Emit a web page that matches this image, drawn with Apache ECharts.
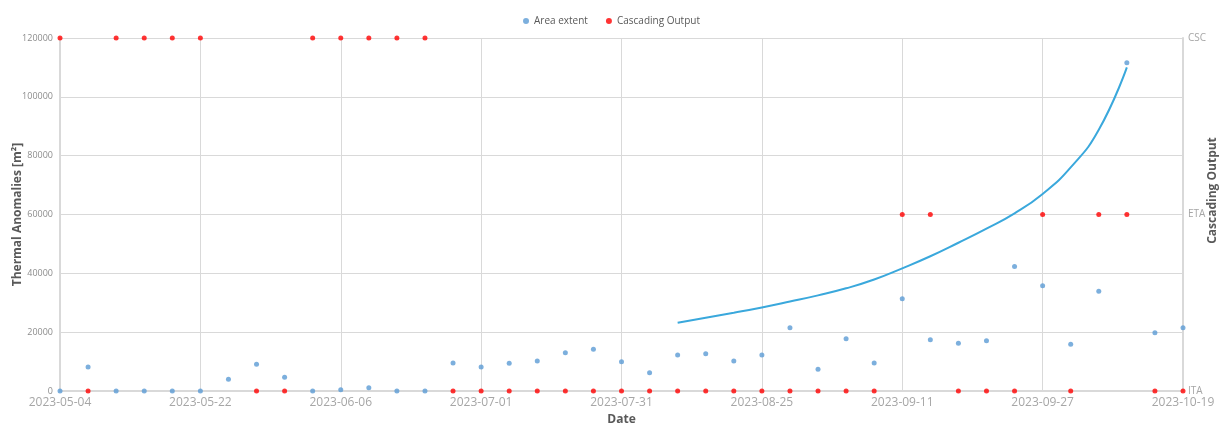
<!DOCTYPE html>
<html>
<head>
<meta charset="utf-8">
<script src="https://cdn.jsdelivr.net/npm/echarts@6/dist/echarts.min.js"></script>
<style>
  html, body { margin: 0; padding: 0; background: #fff; }
  #chart { width: 1223px; height: 424px; }
</style>
</head>
<body>
<div id="chart"></div>
<script>
// Date labels shown every fifth observation along the x axis
const dateLabels = ['2023-05-04', '2023-05-22', '2023-06-06', '2023-07-01', '2023-07-31',
                    '2023-08-25', '2023-09-11', '2023-09-27', '2023-10-19'];

// Thermal anomaly area extent per observation [m²]
const areaExtent = [0, 8200, 0, 0, 0, 0, 4000, 9100, 4700, 0,
                    400, 1100, 0, 0, 9500, 8200, 9400, 10200, 13000, 14200,
                    9950, 6200, 12250, 12700, 10200, 12250, 21500, 7400, 17800, 9500,
                    31400, 17450, 16200, 17100, 42300, 35800, 15900, 33900, 111600, 19800,
                    21500];

// Cascading output level per observation (0 = ITA, 1 = ETA, 2 = CSC); null = no output
const cascadingOutput = [2, 0, 2, 2, 2, 2, null, 0, 0, 2,
                         2, 2, 2, 2, 0, 0, 0, 0, 0, 0,
                         0, 0, 0, 0, 0, 0, 0, 0, 0, 0,
                         1, 1, 0, 0, 0, 1, 0, 1, 1, 0,
                         0];
const outputLevels = ['ITA', 'ETA', 'CSC'];

// Trend curve of the area extent, observations 22 to 38
const trendStart = 22;
const trendValues = [23200, 24900, 26600, 28400, 30400, 32500, 34900, 37900, 41700,
                     45800, 50400, 55200, 60400, 67000, 76000, 88800, 110000];

const font = "'Open Sans', 'Liberation Sans', sans-serif";
const gridColor = '#d9d9d9';

const chart = echarts.init(document.getElementById('chart'), null, { renderer: 'canvas' });

chart.setOption({
  animation: false,
  textStyle: { fontFamily: font },
  legend: {
    top: 11,
    left: 'center',
    itemWidth: 6,
    itemHeight: 6,
    itemGap: 18,
    data: [
      { name: 'Area extent', icon: 'circle' },
      { name: 'Cascading Output', icon: 'circle' }
    ],
    textStyle: { fontSize: 10, color: '#595959', fontFamily: font }
  },
  grid: { left: 60, right: 40, top: 38, bottom: 33, containLabel: false, outerBoundsMode: 'none' },
  xAxis: {
    type: 'value',
    min: 0,
    max: areaExtent.length - 1,
    interval: 5,
    name: 'Date',
    nameLocation: 'middle',
    nameGap: 21,
    nameTextStyle: { fontSize: 12, fontWeight: 'bold', color: '#595959', fontFamily: font },
    axisLine: { show: true, lineStyle: { color: gridColor, width: 2 } },
    axisTick: { show: false },
    splitLine: { show: true, lineStyle: { color: gridColor, width: 1 } },
    axisLabel: {
      margin: 6,
      fontSize: 12,
      color: '#a6a6a6',
      fontFamily: font,
      formatter: v => dateLabels[Math.round(v / 5)] || ''
    }
  },
  yAxis: [
    {
      type: 'value',
      min: 0,
      max: 120000,
      interval: 20000,
      name: 'Thermal Anomalies [m²]',
      nameLocation: 'middle',
      nameGap: 36,
      nameMoveOverlap: false,
      nameTextStyle: { fontSize: 12, fontWeight: 'bold', color: '#595959', fontFamily: font },
      axisLine: { show: true, lineStyle: { color: gridColor, width: 2 } },
      axisTick: { show: false },
      splitLine: { show: true, lineStyle: { color: gridColor, width: 1 } },
      axisLabel: { margin: 7, fontSize: 9, color: '#8c8c8c', fontFamily: font,
                   formatter: v => String(v) }
    },
    {
      type: 'value',
      min: 0,
      max: 2,
      interval: 1,
      position: 'right',
      name: 'Cascading Output',
      nameLocation: 'middle',
      nameGap: 24,
      nameRotate: 90,
      nameMoveOverlap: false,
      nameTextStyle: { fontSize: 12, fontWeight: 'bold', color: '#595959', fontFamily: font,
                       padding: [0, 0, 0, 48] },
      axisLine: { show: true, lineStyle: { color: gridColor, width: 2 } },
      axisTick: { show: false },
      splitLine: { show: false },
      axisLabel: {
        margin: 5,
        fontSize: 10,
        color: '#a6a6a6',
        fontFamily: font,
        formatter: v => outputLevels[v] || ''
      }
    }
  ],
  series: [
    {
      name: 'Trend',
      type: 'line',
      yAxisIndex: 0,
      smooth: 0.5,
      showSymbol: false,
      silent: true,
      z: 1,
      lineStyle: { color: '#3aa8dc', width: 2 },
      data: trendValues.map((v, k) => [trendStart + k, v])
    },
    {
      name: 'Area extent',
      type: 'scatter',
      yAxisIndex: 0,
      symbol: 'circle',
      symbolSize: 5,
      z: 3,
      itemStyle: { color: '#5b9bd5' },
      data: areaExtent.map((v, i) => [i, v])
    },
    {
      name: 'Cascading Output',
      type: 'scatter',
      yAxisIndex: 1,
      symbol: 'circle',
      symbolSize: 5,
      z: 4,
      itemStyle: { color: '#ff0000' },
      data: cascadingOutput.map((v, i) => [i, v]).filter(p => p[1] !== null)
    }
  ]
});
</script>
</body>
</html>
